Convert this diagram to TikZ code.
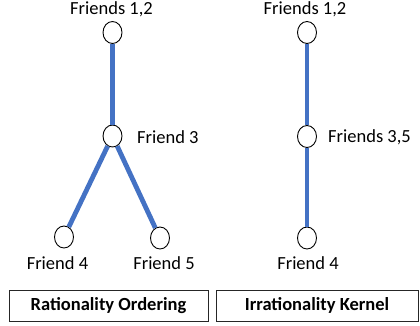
\documentclass[tikz,border=0pt]{standalone}
\usepackage{fontspec}
\setmainfont{Carlito}
\usetikzlibrary{shapes.geometric}
\definecolor{linkblue}{HTML}{4472C4}
\tikzset{
  friend/.style={ellipse, draw=black, fill=white, line width=0.9pt, minimum width=19pt, minimum height=22pt, inner sep=0pt},
  lbl/.style={font=\fontsize{18.5}{20}\selectfont, inner sep=0pt},
  link/.style={draw=linkblue, line width=4.8pt},
  titlebox/.style={draw=black!85, line width=0.9pt, minimum height=31pt, inner sep=0pt, font=\fontsize{18.5}{20}\selectfont\bfseries}
}
\begin{document}
\begin{tikzpicture}[x=1pt, y=-1pt]
\useasboundingbox (0,0) rectangle (420,325);
% left tree: rationality ordering
\node[friend] (l12) at (112.5,32.5) {};
\node[friend] (l3) at (112.5,136) {};
\node[friend] (l4) at (64,237) {};
\node[friend] (l5) at (160,238) {};
\node[lbl] (t12) at (111.5,9) {Friends 1,2};
\node[lbl, anchor=west] (t3) at (137,137) {Friend 3};
\node[lbl] (t4) at (57.5,263) {Friend 4};
\node[lbl] (t5) at (164,263) {Friend 5};
% right tree: irrationality kernel
\node[friend] (r12) at (307,32.5) {};
\node[friend] (r35) at (307,136.5) {};
\node[friend] (r4) at (307,238) {};
\node[lbl] (s12) at (305,9) {Friends 1,2};
\node[lbl, anchor=west] (s35) at (328,137) {Friends 3,5};
\node[lbl] (s4) at (308,263) {Friend 4};
% edges
\path[link] (l12) -- (l3);
\path[link] (l3) -- (l4);
\path[link] (l3) -- (l5);
\path[link] (r12) -- (r35);
\path[link] (r35) -- (r4);
% captions
\node[titlebox, minimum width=199pt] (capL) at (108.5,305.5) {Rationality Ordering};
\node[titlebox, minimum width=202pt] (capR) at (317,305.5) {Irrationality Kernel};
\end{tikzpicture}
\end{document}
